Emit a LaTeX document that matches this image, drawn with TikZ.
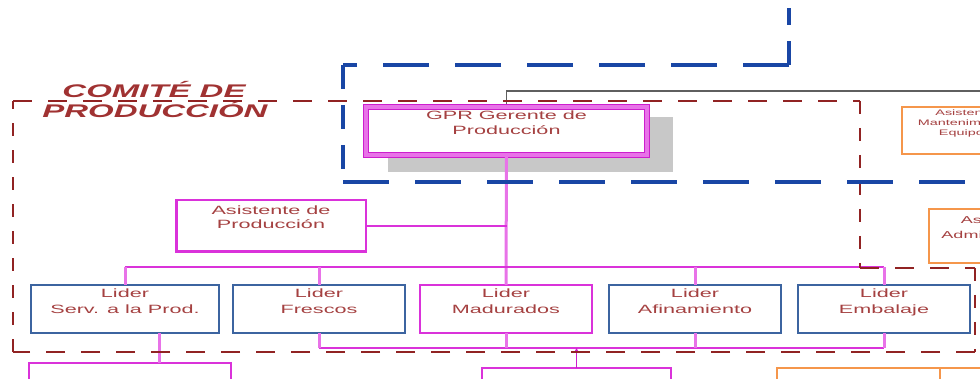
\documentclass[tikz,border=0pt]{standalone}
\usepackage{fontspec}
\usetikzlibrary{backgrounds,arrows.meta}
\newfontfamily\widesans[FakeStretch=1.8]{Liberation Sans}

\definecolor{magborder}{RGB}{218,50,218}
\definecolor{magdark}{RGB}{205,30,205}
\definecolor{maglight}{RGB}{232,115,232}
\definecolor{ldrblue}{RGB}{60,100,160}
\definecolor{comred}{RGB}{145,35,35}
\definecolor{zoneblue}{RGB}{25,70,165}
\definecolor{asorange}{RGB}{245,150,75}
\definecolor{txtred}{RGB}{165,65,65}
\definecolor{titlered}{RGB}{160,50,50}
\definecolor{shadowgray}{RGB}{200,200,200}
\definecolor{linegray}{RGB}{95,95,95}

\begin{document}
\begin{tikzpicture}[x=1pt,y=-1pt,
  every node/.style={inner sep=0pt,outer sep=0pt},
  gprbox/.style={draw=magdark,line width=1.2pt,double=maglight,double distance=4pt,fill=white},
  magbox/.style={draw=magborder,line width=2.5pt,fill=white},
  ldrbox/.style={draw=ldrblue,line width=1.8pt,fill=white},
  ldrmag/.style={draw=magborder,line width=1.8pt,fill=white},
  orbox/.style={draw=asorange,line width=2pt,fill=white},
  boxtext/.style={font=\widesans\fontsize{12}{15}\selectfont,text=txtred,align=center,anchor=north},
  ldrtext/.style={font=\widesans\fontsize{12}{16}\selectfont,text=txtred,align=center,anchor=north},
  titletext/.style={font=\widesans\bfseries\itshape\fontsize{18.3}{20}\selectfont,text=titlered,anchor=base},
  trunk/.style={draw=maglight,line width=3pt},
  busline/.style={draw=magborder,line width=2pt},
  drop/.style={draw=maglight,line width=3pt},
  arrowline/.style={draw=magdark,line width=1.4pt,-{Stealth[length=5pt,width=5pt]}},
  grayline/.style={draw=linegray,line width=1.5pt},
  redH/.style={draw=comred,line width=2.6pt,dash pattern=on 19pt off 16pt},
  redV/.style={draw=comred,line width=2.6pt,dash pattern=on 13pt off 14pt},
  blueH/.style={draw=zoneblue,line width=3.8pt,dash pattern=on 46pt off 26pt},
  blueV/.style={draw=zoneblue,line width=3.8pt,dash pattern=on 24pt off 16pt}]

\useasboundingbox (0,0) rectangle (980,379);
\clip (0,0) rectangle (980,379);

% ---- boxes ----
\node[gprbox,minimum width=280.6,minimum height=47.6] (gpr) at (506.5,131) {};
\node[boxtext] (gprt) at ([yshift=-3.3pt]gpr.north) {GPR Gerente de\\Producción};

\node[magbox,minimum width=189.5,minimum height=51.5] (asis) at (271,226) {};
\node[boxtext,font=\widesans\fontsize{12}{14}\selectfont] (asist) at ([yshift=-5.3pt]asis.north) {Asistente de\\Producción};

\node[ldrbox,minimum width=188.2,minimum height=48.2] (serv) at (125,309) {};
\node[ldrbox,minimum width=172.2,minimum height=48.2] (fres) at (319,309) {};
\node[ldrmag,minimum width=172.2,minimum height=48.2] (madu) at (506,309) {};
\node[ldrbox,minimum width=172.2,minimum height=48.2] (afin) at (695,309) {};
\node[ldrbox,minimum width=172.2,minimum height=48.2] (emba) at (884,309) {};
\node[ldrtext] (servt) at ([yshift=-3.6pt]serv.north) {Lider\\Serv. a la Prod.};
\node[ldrtext] (frest) at ([yshift=-3.6pt]fres.north) {Lider\\Frescos};
\node[ldrtext] (madut) at ([yshift=-3.6pt]madu.north) {Lider\\Madurados};
\node[ldrtext] (afint) at ([yshift=-3.6pt]afin.north) {Lider\\Afinamiento};
\node[ldrtext] (embat) at ([yshift=-3.6pt]emba.north) {Lider\\Embalaje};

\node[ldrmag,minimum width=202,minimum height=40] (bl) at (130,383) {};
\node[ldrmag,minimum width=189,minimum height=40] (bc) at (576.5,388) {};
\node[orbox,minimum width=163,minimum height=40] (br1) at (858.5,388) {};
\node[orbox,minimum width=160,minimum height=40] (br2) at (1020,388) {};

\node[orbox,minimum width=158,minimum height=47] (o1) at (981,130.5) {};
\node[ldrtext,font=\widesans\fontsize{8}{10}\selectfont] (o1t) at ([xshift=-16pt,yshift=-3pt]o1.north) {Asistente\\Mantenimiento\\Equipos};
\node[orbox,minimum width=141,minimum height=54] (o2) at (999.5,236) {};
\node[ldrtext,font=\widesans\fontsize{10}{15}\selectfont] (o2t) at ([xshift=-1.5pt,yshift=-7pt]o2.north) {Asistente\\Administrativo};

% ---- title ----
\node[titletext] (ttl1) at (154,97.5) {COMITÉ DE};
\node[titletext] (ttl2) at (155,117.5) {PRODUCCIÓN};

% ---- shadow and gray link behind the boxes ----
\coordinate (gend) at (990,91);
\begin{pgfonlayer}{background}
  \fill[shadowgray] (388,117) rectangle (673,172);
  \draw[grayline] (gpr.north) -- (gpr.north |- gend) -- (gend);
\end{pgfonlayer}

% ---- connectors ----
\coordinate (bus) at (506.5,267);
\coordinate (lowbus) at (506.5,348);
\draw[trunk] (gpr.south) -- (madu.north);
\draw[busline] (asis.east) -- (asis.east -| gpr.south);
\draw[busline] (serv.north |- bus) -- (emba.north |- bus);
\foreach \n in {serv,fres,afin,emba} \draw[drop] (\n.north) -- (\n.north |- bus);
\draw[busline] (fres.south |- lowbus) -- (emba.south |- lowbus);
\foreach \n in {fres,madu,afin,emba} \draw[drop] (\n.south) -- (\n.south |- lowbus);
\draw[drop] ([xshift=34pt]serv.south) -- ([xshift=34pt]serv.south |- bl.north);
\draw[arrowline] (bc.north) -- (bc.north |- lowbus);

% ---- production committee frame ----
\coordinate (c1) at (13,101);
\coordinate (c2) at (860,101);
\coordinate (c3) at (860,268);
\coordinate (c4) at (975,268);
\coordinate (c5) at (975,352);
\coordinate (c6) at (13,352);
\draw[redH] (c1) -- (c2);
\draw[redV] (c2) -- (c3);
\draw[redH] (c3) -- (c4);
\draw[redV] (c4) -- (c5);
\draw[redH] (c5) -- (c6);
\draw[redV] (c6) -- (c1);

% ---- management zone frame ----
\coordinate (b1) at (789,8);
\coordinate (b2) at (789,65);
\coordinate (b3) at (343,65);
\coordinate (b4) at (343,182);
\coordinate (b5) at (1000,182);
\draw[blueV] (b2) -- (b1);
\draw[blueH] (b2) -- (b3);
\draw[blueV] (b3) -- (b4);
\draw[blueH] (b4) -- (b5);
\end{tikzpicture}
\end{document}
